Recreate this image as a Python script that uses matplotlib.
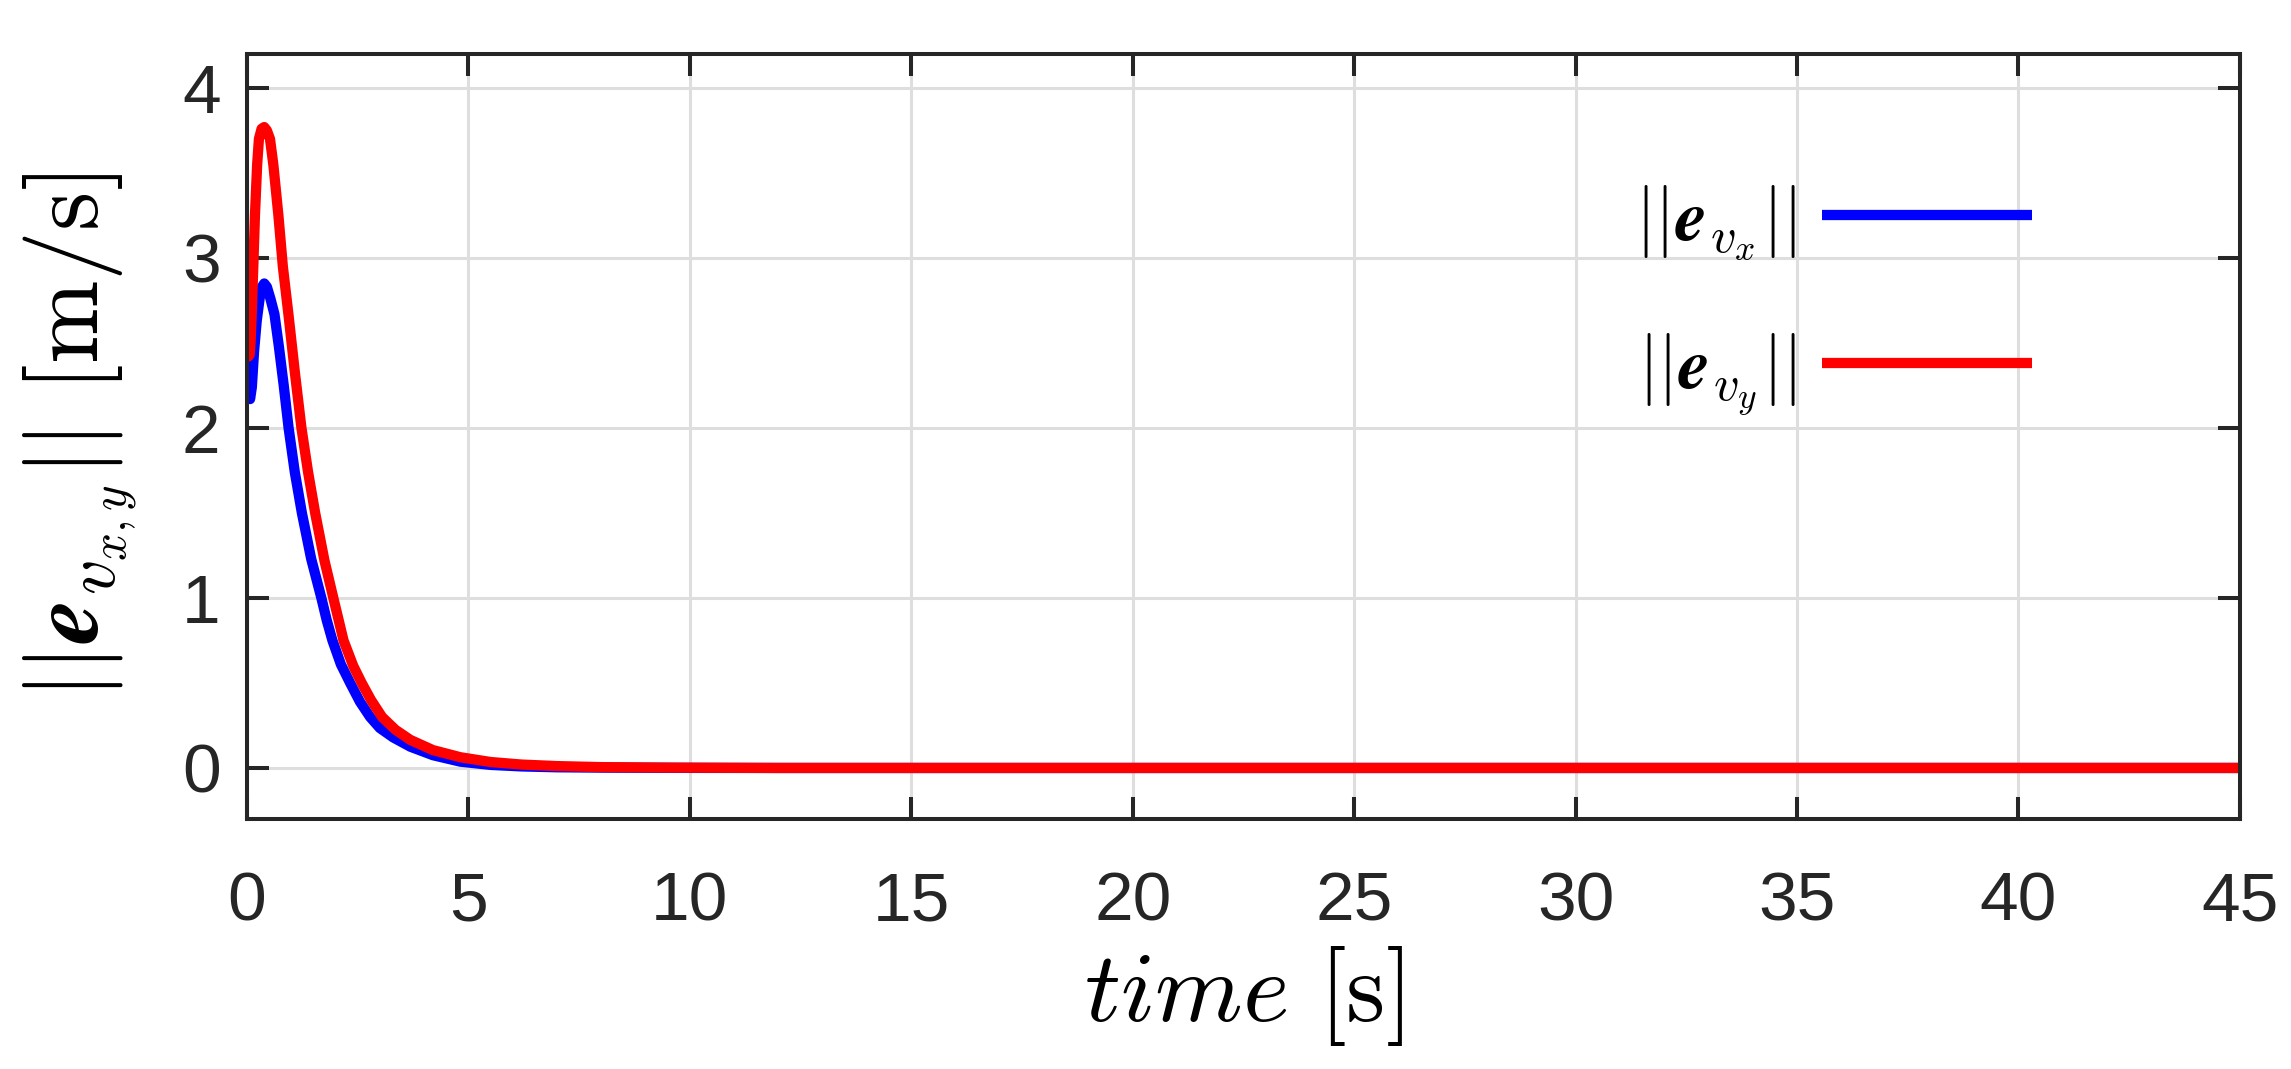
import matplotlib
matplotlib.use('Agg')
import matplotlib.pyplot as plt

t_x = [0, 0.03, 0.07, 0.11, 0.16, 0.22, 0.29, 0.34, 0.39, 0.45, 0.53, 0.62,
       0.72, 0.83, 0.94, 1.08, 1.24, 1.45, 1.68, 1.80, 1.93, 2.12, 2.33, 2.55,
       2.78, 3.0, 3.3, 3.69, 4.2, 4.82, 5.5, 6.2, 7.0, 8.0, 10, 12, 20, 30, 45]
e_vx = [2.40, 2.25, 2.17, 2.24, 2.45, 2.63, 2.77, 2.83, 2.85, 2.83, 2.76, 2.67,
        2.48, 2.25, 2.00, 1.74, 1.50, 1.23, 1.00, 0.87, 0.75, 0.61, 0.50, 0.39,
        0.30, 0.235, 0.18, 0.125, 0.075, 0.037, 0.018, 0.009, 0.004, 0.002,
        0.0005, 0, 0, 0, 0]

t_y = [0, 0.03, 0.06, 0.08, 0.106, 0.143, 0.18, 0.23, 0.27, 0.33, 0.39, 0.45,
       0.52, 0.595, 0.71, 0.81, 0.94, 1.08, 1.23, 1.38, 1.54, 1.75, 1.95, 2.07,
       2.18, 2.40, 2.59, 2.80, 3.05, 3.35, 3.69, 4.2, 4.82, 5.5, 6.2, 7.0, 8.0,
       9.5, 12, 20, 30, 45]
e_vy = [2.44, 2.42, 2.43, 2.50, 2.66, 2.95, 3.25, 3.55, 3.70, 3.76, 3.77, 3.75,
        3.70, 3.55, 3.25, 2.95, 2.66, 2.33, 2.00, 1.74, 1.50, 1.22, 1.00, 0.87,
        0.75, 0.60, 0.50, 0.40, 0.30, 0.225, 0.165, 0.105, 0.063, 0.035, 0.02,
        0.011, 0.005, 0.002, 0, 0, 0, 0]

x_ticks = [0, 5, 10, 15, 20, 25, 30, 35, 40, 45]
y_ticks = [0, 1, 2, 3, 4]

plt.rcParams['font.family'] = ['Liberation Sans', 'DejaVu Sans']
plt.rcParams['mathtext.fontset'] = 'cm'

dark = '#262626'
fig = plt.figure(figsize=(22.91, 10.69), dpi=100)
ax = fig.add_axes([0.1078, 0.2339, 0.8699, 0.7156])

ax.plot(t_x, e_vx, color='#0000ff', lw=7.4, solid_joinstyle='round',
        solid_capstyle='butt', label=r'$||\boldsymbol{e}_{v_x}||$')
ax.plot(t_y, e_vy, color='#ff0000', lw=7.4, solid_joinstyle='round',
        solid_capstyle='butt', label=r'$||\boldsymbol{e}_{v_y}||$')

ax.set_xlim(0, 45)
ax.set_ylim(-0.3, 4.2)
ax.set_xticks(x_ticks)
ax.set_yticks(y_ticks)
ax.grid(True, color='#dedede', lw=2.2)
ax.set_axisbelow(True)

for s in ax.spines.values():
    s.set_color(dark)
    s.set_linewidth(2.9)
ax.tick_params(direction='in', length=15.8, width=2.9, top=True, right=True,
               colors=dark, labelsize=50)
ax.tick_params(axis='x', pad=37)
ax.tick_params(axis='y', pad=19)

ax.set_xlabel(r'$time\ [\mathrm{s}]$', fontsize=72, labelpad=7, color='black')
ax.set_ylabel(r'$||\boldsymbol{e}_{v_{x,y}}||\ [\mathrm{m/s}]$', fontsize=72,
              labelpad=30, color='black')

ax.legend(loc='upper right', bbox_to_anchor=(0.8956, 0.83), frameon=False,
          fontsize=52, markerfirst=False, handlelength=2.9, handletextpad=0.36,
          labelspacing=0.94, borderpad=0, borderaxespad=0)

fig.savefig('out.png', dpi=100, facecolor='white')
